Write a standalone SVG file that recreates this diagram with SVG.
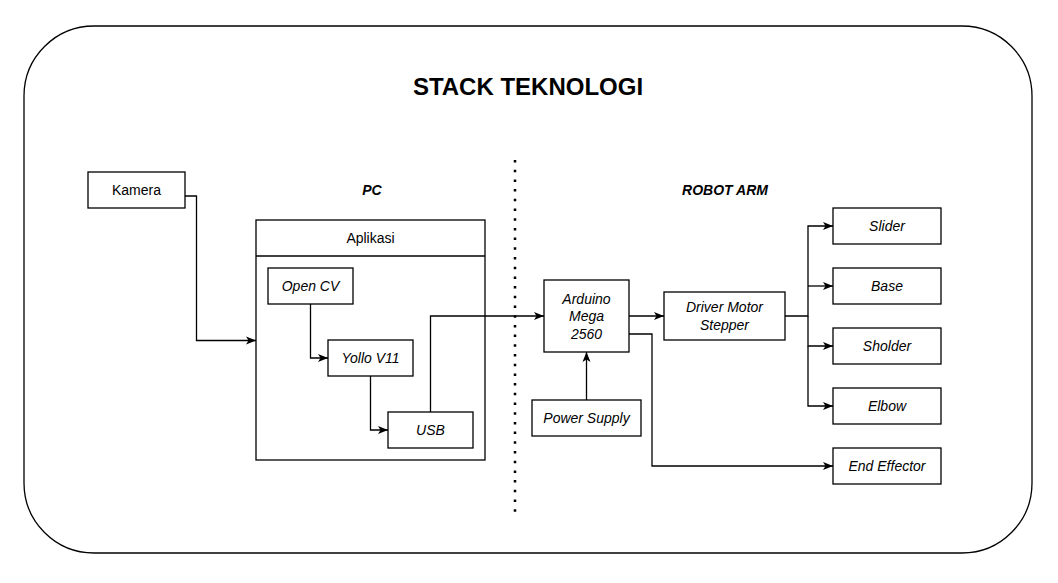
<svg xmlns="http://www.w3.org/2000/svg" width="1058" height="583" viewBox="0 0 1058 583">
<style>
.box{fill:#fff;stroke:#000;stroke-width:1.3}
.t{font-family:"Liberation Sans",Arial,sans-serif;font-size:14px;fill:#000;text-anchor:middle}
.i{font-style:italic}
.lbl{font-family:"Liberation Sans",Arial,sans-serif;font-size:14px;font-weight:bold;font-style:italic;text-anchor:middle;fill:#000}
.c{fill:none;stroke:#000;stroke-width:1.3}
</style>
<defs>
<marker id="arr" markerUnits="userSpaceOnUse" markerWidth="12" markerHeight="12" refX="11" refY="6" orient="auto">
<path d="M1,2 L11,6 L1,10 L3.5,6 Z" fill="#000"/>
</marker>
</defs>
<rect width="1058" height="583" fill="#fff"/>
<g id="frame">
<rect x="24" y="26" width="1008" height="527" rx="70" ry="70" fill="#fff" stroke="#000" stroke-width="1.3"/>
<text x="528" y="95" font-family="'Liberation Sans',Arial,sans-serif" font-size="24" font-weight="bold" text-anchor="middle">STACK TEKNOLOGI</text>
<line x1="515" y1="160" x2="515" y2="518" stroke="#000" stroke-width="2.5" stroke-dasharray="2.5 7.2"/>
<text class="lbl" x="372" y="195">PC</text>
<text class="lbl" x="725" y="195">ROBOT ARM</text>
</g>
<g id="kamera"><rect class="box" x="88" y="172" width="97" height="36"/><text class="t" x="136.5" y="195">Kamera</text></g>
<g id="aplikasi"><rect class="box" x="256" y="220" width="229" height="240"/><line class="c" x1="256" y1="256" x2="485" y2="256"/><text class="t" x="370.5" y="243">Aplikasi</text></g>
<g id="opencv"><rect class="box" x="268" y="268" width="85" height="36"/><text class="t i" x="310.5" y="291">Open CV</text></g>
<g id="yollo"><rect class="box" x="328" y="340" width="85" height="36"/><text class="t i" x="370.5" y="363">Yollo V11</text></g>
<g id="usb"><rect class="box" x="388" y="412" width="85" height="36"/><text class="t i" x="430.5" y="435">USB</text></g>
<g id="arduino"><rect class="box" x="544" y="280" width="85" height="72"/><text class="t i" x="586.5" y="304">Arduino</text><text class="t i" x="586.5" y="321">Mega</text><text class="t i" x="586.5" y="338.5">2560</text></g>
<g id="driver"><rect class="box" x="664" y="292" width="121" height="48"/><text class="t i" x="724.5" y="312">Driver Motor</text><text class="t i" x="724.5" y="330">Stepper</text></g>
<g id="power"><rect class="box" x="532" y="400" width="109" height="36"/><text class="t i" x="586.5" y="423">Power Supply</text></g>
<g id="slider"><rect class="box" x="833" y="208" width="108" height="36"/><text class="t i" x="887" y="231">Slider</text></g>
<g id="base"><rect class="box" x="833" y="268" width="108" height="36"/><text class="t i" x="887" y="291">Base</text></g>
<g id="sholder"><rect class="box" x="833" y="328" width="108" height="36"/><text class="t i" x="887" y="351">Sholder</text></g>
<g id="elbow"><rect class="box" x="833" y="388" width="108" height="36"/><text class="t i" x="887" y="411">Elbow</text></g>
<g id="endeffector"><rect class="box" x="833" y="448" width="108" height="36"/><text class="t i" x="887" y="471">End Effector</text></g>
<g id="connectors">
<path class="c" d="M185,196 H196.5 V340.5 H256" marker-end="url(#arr)"/>
<path class="c" d="M310.5,304 V358 H328" marker-end="url(#arr)"/>
<path class="c" d="M370.5,376 V430 H388" marker-end="url(#arr)"/>
<path class="c" d="M430.5,412 V316 H544" marker-end="url(#arr)"/>
<path class="c" d="M629,316 H664" marker-end="url(#arr)"/>
<path class="c" d="M586.5,400 V352" marker-end="url(#arr)"/>
<path class="c" d="M785,316 H808 V226 H833" marker-end="url(#arr)"/>
<path class="c" d="M808,286 H833" marker-end="url(#arr)"/>
<path class="c" d="M808,316 V346 H833" marker-end="url(#arr)"/>
<path class="c" d="M808,346 V406 H833" marker-end="url(#arr)"/>
<path class="c" d="M629,334 H652 V466 H833" marker-end="url(#arr)"/>
</g>
</svg>
